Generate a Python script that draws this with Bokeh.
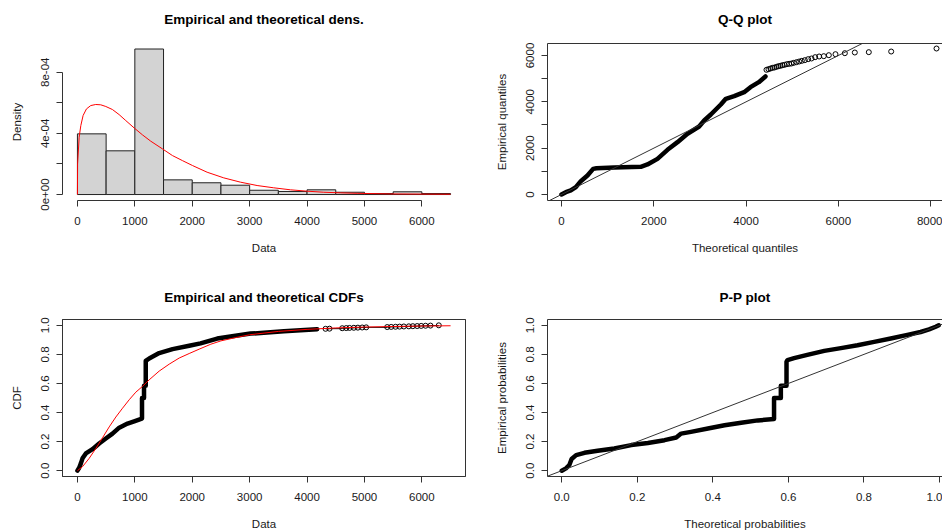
from bokeh.plotting import figure
from bokeh.models import (Range1d, FixedTicker, Slope, CustomJSTickFormatter,
                          NumeralTickFormatter, LinearAxis)
from bokeh.layouts import column, row
from bokeh.embed import file_html
from bokeh.resources import INLINE

# ---------------- data ----------------
hist_breaks = [0, 500, 1000, 1500, 2000, 2500, 3000, 3500, 4000, 4500, 5000, 5500, 6000, 6500]
hist_density = [3.97e-4, 2.86e-4, 9.52e-4, 0.96e-4, 0.77e-4, 0.61e-4, 0.28e-4,
                0.20e-4, 0.31e-4, 0.15e-4, 0.065e-4, 0.18e-4, 0.065e-4]

dens_x = [0, 3, 30, 59, 99, 157, 232, 319, 406, 494, 610, 726, 842, 987, 1134, 1277,
          1480, 1655, 1829, 2003, 2259, 2549, 2839, 3130, 3419, 3710, 4001, 4290,
          4581, 4872, 5453, 6500]
dens_y = [0, 2.0e-4, 3.75e-4, 4.51e-4, 5.17e-4, 5.6e-4, 5.82e-4, 5.89e-4, 5.87e-4,
          5.76e-4, 5.56e-4, 5.23e-4, 4.84e-4, 4.36e-4, 3.9e-4, 3.49e-4, 2.99e-4,
          2.55e-4, 2.22e-4, 1.9e-4, 1.46e-4, 1.09e-4, 0.81e-4, 0.59e-4, 0.44e-4,
          0.31e-4, 0.22e-4, 0.15e-4, 0.11e-4, 0.08e-4, 0.04e-4, 0.02e-4]

qq_theo_dense = [0, 94, 202, 311, 419, 563, 686, 758, 1141, 1719, 1863, 2080, 2297, 2514,
                 2730, 2983, 3092, 3236, 3453, 3561, 3742, 3958, 4095, 4276, 4420]
qq_emp_dense = [0, 100, 173, 316, 575, 820, 1107, 1136, 1165, 1194, 1295, 1539, 1928, 2259,
                2619, 2935, 3194, 3453, 3884, 4130, 4244, 4417, 4633, 4848, 5093]
qq_theo_tail = [4442, 4485, 4529, 4572, 4615, 4659, 4702, 4745, 4789, 4832, 4883, 4933,
                4984, 5034, 5092, 5150, 5208, 5273, 5345, 5417, 5497, 5583, 5684, 5793,
                5937, 6140, 6356, 6659, 7144, 8126]
qq_emp_tail = [5381, 5409, 5438, 5467, 5481, 5510, 5539, 5553, 5582, 5596, 5625, 5640,
               5654, 5683, 5711, 5740, 5769, 5798, 5841, 5870, 5927, 5956, 5970, 6013,
               6056, 6099, 6128, 6143, 6171, 6301]
qq_ref_slope = 1
qq_ref_intercept = 0

ecdf_x_dense = [0, 31, 60, 89, 147, 263, 379, 495, 611, 728, 873, 989, 1122, 1125, 1125,
                1160, 1160, 1190, 1190, 1250, 1424, 1657, 1947, 2144, 2435, 2724, 3015,
                3305, 3596, 3886, 4176]
ecdf_y_dense = [0.0, 0.02, 0.05, 0.085, 0.119, 0.148, 0.187, 0.221, 0.255, 0.296, 0.324,
                0.34, 0.358, 0.36, 0.50, 0.50, 0.585, 0.585, 0.755, 0.772, 0.809, 0.836,
                0.859, 0.876, 0.909, 0.927, 0.943, 0.95, 0.959, 0.966, 0.973]
ecdf_x_tail = [4322, 4391, 4612, 4682, 4740, 4815, 4885, 4960, 5030, 5396, 5465, 5541,
               5611, 5686, 5773, 5843, 5918, 5988, 6064, 6150, 6295]
ecdf_y_tail = [0.976, 0.977, 0.980, 0.981, 0.982, 0.983, 0.984, 0.985, 0.986, 0.988,
               0.989, 0.990, 0.991, 0.992, 0.993, 0.994, 0.995, 0.996, 0.997, 0.998, 1.0]

cdf_x = [0, 89, 205, 321, 437, 553, 669, 786, 902, 1017, 1134, 1250, 1424, 1599, 1773,
         1947, 2121, 2324, 2500, 2750, 3000, 3500, 4000, 4500, 5000, 5500, 6000, 6500]
cdf_y = [0.0, 0.028, 0.085, 0.153, 0.226, 0.301, 0.369, 0.43, 0.488, 0.54, 0.58, 0.625,
         0.685, 0.733, 0.775, 0.806, 0.836, 0.87, 0.893, 0.915, 0.935, 0.958, 0.972,
         0.982, 0.988, 0.992, 0.995, 0.997]

pp_theo = [0, 0.011, 0.02, 0.026, 0.038, 0.06, 0.095, 0.139, 0.184, 0.228, 0.272, 0.303,
           0.316, 0.342, 0.387, 0.431, 0.475, 0.519, 0.562, 0.562, 0.58, 0.58, 0.595,
           0.595, 0.5975, 0.615, 0.65, 0.695, 0.739, 0.783, 0.827, 0.871, 0.915, 0.95,
           0.9725, 0.99, 0.998]
pp_emp = [0.0, 0.016, 0.039, 0.08, 0.107, 0.123, 0.137, 0.153, 0.176, 0.191, 0.21, 0.228,
          0.255, 0.267, 0.29, 0.312, 0.33, 0.346, 0.355, 0.50, 0.50, 0.585, 0.585, 0.749,
          0.761, 0.774, 0.797, 0.824, 0.843, 0.863, 0.886, 0.909, 0.934, 0.954, 0.972,
          0.99, 1.0]

titles = ["Empirical and theoretical dens.", "Q-Q plot",
          "Empirical and theoretical CDFs", "P-P plot"]
xlabels = ["Data", "Theoretical quantiles", "Data", "Theoretical probabilities"]
ylabels = ["Density", "Empirical quantiles", "CDF", "Empirical probabilities"]

data_ticks = [0, 1000, 2000, 3000, 4000, 5000, 6000]
dens_ticks = [0, 4e-4, 8e-4]
dens_minor = [2e-4, 6e-4]
qq_xticks = [0, 2000, 4000, 6000, 8000]
qq_yticks = [0, 2000, 4000, 6000]
qq_yminor = [1000, 3000, 5000]
prob_ticks = [0, 0.2, 0.4, 0.6, 0.8, 1.0]

# ---------------- styling helpers ----------------
FONT = "Liberation Sans"
TXT = "#1a1a1a"
LINE = "#333333"


def make_fig(i, xr, yr, left, right, top, bottom, title_gap, top_line,
             height=266, width=471):
    p = figure(width=width, height=height, x_range=xr, y_range=yr,
               output_backend="svg", toolbar_location=None,
               min_border_left=left, min_border_right=right,
               min_border_top=top, min_border_bottom=bottom)
    # an axis above the frame with no visible ticks: it draws the top side of
    # the box and carries the panel title as its label
    top_axis = LinearAxis(ticker=FixedTicker(ticks=[xr.start]),
                          major_tick_out=0, major_tick_in=0,
                          major_tick_line_color=None, minor_tick_line_color=None,
                          major_label_standoff=0, major_label_text_font_size="1px",
                          major_label_text_alpha=0,
                          axis_line_color=LINE if top_line else None,
                          axis_label=titles[i], axis_label_standoff=title_gap,
                          axis_label_text_font=FONT, axis_label_text_font_size="13.5px",
                          axis_label_text_font_style="bold",
                          axis_label_text_color="black")
    p.add_layout(top_axis, "above")
    p.xgrid.visible = False
    p.ygrid.visible = False
    p.background_fill_color = "white"
    p.border_fill_color = "white"
    for ax in (p.below[0], p.left[0]):
        ax.axis_line_color = LINE
        ax.major_tick_line_color = LINE
        ax.minor_tick_line_color = None
        ax.major_tick_in = 0
        ax.major_tick_out = 6
        ax.major_label_text_font = FONT
        ax.major_label_text_font_size = "11.5px"
        ax.major_label_text_color = TXT
        ax.axis_label_text_font = FONT
        ax.axis_label_text_font_size = "11.5px"
        ax.axis_label_text_font_style = "normal"
        ax.axis_label_text_color = TXT
    p.below[0].axis_label = xlabels[i]
    p.left[0].axis_label = ylabels[i]
    p.below[0].major_label_standoff = 10
    p.below[0].axis_label_standoff = 14
    p.left[0].major_label_orientation = "vertical"
    p.left[0].major_label_standoff = 7
    p.left[0].axis_label_standoff = 16
    return p


# ---------------- panel 1: histogram + density ----------------
p1 = make_fig(0, Range1d(-260, 6760), Range1d(-0.39e-4, 9.88e-4), 62, 6, 43, 66,
              17, False)
p1.outline_line_color = None
xa1, ya1 = p1.below[0], p1.left[0]
xa1.ticker = FixedTicker(ticks=data_ticks)
xa1.bounds = (data_ticks[0], data_ticks[-1])
ya1.ticker = FixedTicker(ticks=dens_ticks, minor_ticks=dens_minor)
ya1.bounds = (dens_ticks[0], dens_ticks[-1])
ya1.minor_tick_line_color = LINE
ya1.minor_tick_in = 0
ya1.minor_tick_out = 6
ya1.formatter = CustomJSTickFormatter(
    code="const e = Math.round(tick*1e4); return e == 0 ? '0e+00' : e + 'e-04';")
p1.quad(left=hist_breaks[:-1], right=hist_breaks[1:], bottom=0, top=hist_density,
        fill_color="#d3d3d3", line_color="#222222", line_width=1)
p1.line(dens_x, dens_y, line_color="#ff0000", line_width=1)

# ---------------- panel 2: Q-Q ----------------
p2 = make_fig(1, Range1d(-303, 8256), Range1d(-259, 6517), 76, 0, 43, 66,
              17, True)
p2.outline_line_color = None
xa2, ya2 = p2.below[0], p2.left[0]
xa2.ticker = FixedTicker(ticks=qq_xticks)
ya2.ticker = FixedTicker(ticks=qq_yticks, minor_ticks=qq_yminor)
ya2.minor_tick_line_color = LINE
ya2.minor_tick_in = 0
ya2.minor_tick_out = 6
p2.add_layout(Slope(gradient=qq_ref_slope, y_intercept=qq_ref_intercept,
                    line_color="#333333", line_width=1))
p2.line(qq_theo_dense, qq_emp_dense, line_color="black", line_width=4.5,
        line_join="round", line_cap="round")
p2.scatter(qq_theo_tail, qq_emp_tail, marker="circle", size=5, fill_color=None,
           line_color="black", line_width=1)

# ---------------- panel 3: CDFs ----------------
p3 = make_fig(2, Range1d(-260, 6760), Range1d(-0.04, 1.04), 62, 6, 53, 55,
              15, True)
p3.outline_line_color = LINE
xa3, ya3 = p3.below[0], p3.left[0]
xa3.ticker = FixedTicker(ticks=data_ticks)
ya3.ticker = FixedTicker(ticks=prob_ticks)
ya3.formatter = NumeralTickFormatter(format="0.0")
p3.line(ecdf_x_dense, ecdf_y_dense, line_color="black", line_width=4.5,
        line_join="round", line_cap="round")
p3.step(ecdf_x_tail, ecdf_y_tail, mode="after", line_color="black", line_width=1)
p3.scatter(ecdf_x_tail, ecdf_y_tail, marker="circle", size=5, fill_color=None,
           line_color="black", line_width=1)
p3.line(cdf_x, cdf_y, line_color="#ff0000", line_width=1)

# ---------------- panel 4: P-P ----------------
p4 = make_fig(3, Range1d(-0.0378, 1.008), Range1d(-0.04, 1.04), 76, 0, 53, 55,
              15, True)
p4.outline_line_color = None
xa4, ya4 = p4.below[0], p4.left[0]
xa4.ticker = FixedTicker(ticks=prob_ticks)
xa4.formatter = NumeralTickFormatter(format="0.0")
ya4.ticker = FixedTicker(ticks=prob_ticks)
ya4.formatter = NumeralTickFormatter(format="0.0")
p4.add_layout(Slope(gradient=qq_ref_slope, y_intercept=qq_ref_intercept,
                    line_color="#333333", line_width=1))
p4.line(pp_theo, pp_emp, line_color="black", line_width=4.5,
        line_join="round", line_cap="round")

layout = column(row(p1, p2), row(p3, p4))
open("out.html", "w").write(file_html(layout, INLINE))
